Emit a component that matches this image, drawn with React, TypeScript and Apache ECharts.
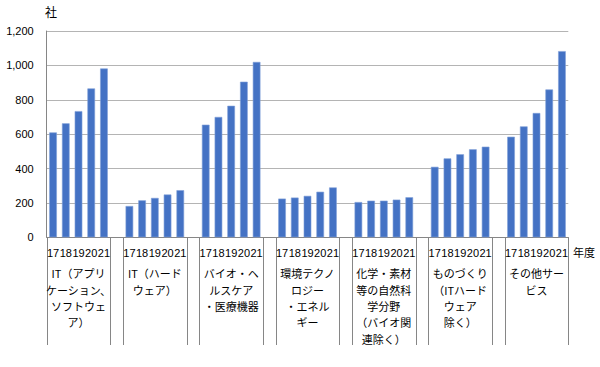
import React, { useEffect, useRef } from "react";
import * as echarts from "echarts";

const groupNames = [
  "IT（アプリ\nケーション、\nソフトウェ\nア）",
  "IT（ハード\nウェア）",
  "バイオ・ヘ\nルスケア\n・医療機器",
  "環境テクノ\nロジー\n・エネル\nギー",
  "化学・素材\n等の自然科\n学分野\n（バイオ関\n連除く）",
  "ものづくり\n（ITハード\nウェア\n除く）",
  "その他サー\nビス",
];
const years = ["17", "18", "19", "20", "21"];
const itApp = [610, 663, 734, 866, 982];
const itHard = [182, 215, 229, 249, 274];
const bio = [655, 700, 765, 905, 1020];
const env = [225, 231, 241, 265, 290];
const chem = [205, 213, 213, 219, 233];
const mono = [410, 459, 483, 512, 527];
const other = [585, 645, 723, 860, 1083];
const groupValues = [itApp, itHard, bio, env, chem, mono, other];
const yTicks = { min: 0, max: 1200, interval: 200 };

const CJK = "'Noto Sans CJK JP', sans-serif";
const LAT = "'Liberation Sans', Arial, sans-serif";

export default function App() {
  const ref = useRef<HTMLDivElement>(null);
  useEffect(() => {
    if (!ref.current) return;
    const chart = echarts.init(ref.current, null, { renderer: "svg" });

    const slotLabels: string[] = [];
    const groupLabels: string[] = [];
    const values: (number | null)[] = [];
    const boundaries: number[] = [];
    groupValues.forEach((vals, g) => {
      boundaries.push(slotLabels.length);
      vals.forEach((v, i) => {
        slotLabels.push(years[i]);
        groupLabels.push(i === 2 ? groupNames[g] : "");
        values.push(v);
      });
      boundaries.push(slotLabels.length);
      if (g < groupValues.length - 1) {
        slotLabels.push("");
        groupLabels.push("");
        values.push(null);
      }
    });

    chart.setOption({
      animation: false,
      grid: { left: 46.7, right: 31.7, top: 31, bottom: 129.7 },
      xAxis: [
        {
          type: "category",
          data: slotLabels,
          axisLine: { show: true, lineStyle: { color: "#868686", width: 1 } },
          axisTick: { show: false },
          axisLabel: {
            interval: 0,
            fontSize: 11,
            color: "#000",
            margin: 10,
            fontFamily: LAT,
          },
        },
        {
          type: "category",
          data: groupLabels,
          position: "bottom",
          axisLine: { show: false },
          axisTick: { show: false },
          axisLabel: {
            interval: 0,
            fontSize: 11,
            lineHeight: 16.3,
            color: "#000",
            margin: 28,
            fontFamily: CJK,
            hideOverlap: false,
          },
        },
      ],
      yAxis: {
        type: "value",
        min: yTicks.min,
        max: yTicks.max,
        interval: yTicks.interval,
        axisLine: { show: true, lineStyle: { color: "#868686" } },
        axisTick: { show: false },
        splitLine: { lineStyle: { color: "#b4b4b4", width: 1 } },
        axisLabel: {
          fontSize: 11,
          color: "#000",
          margin: 13,
          fontFamily: LAT,
          formatter: (v: number) => v.toLocaleString("en-US"),
        },
      },
      series: [
        {
          type: "bar",
          xAxisIndex: 0,
          data: values,
          barWidth: "60%",
          itemStyle: { color: "#4472C4", borderColor: "#7f9fd8", borderWidth: 0.6 },
        },
      ],
    });

    const c0 = chart.convertToPixel({ xAxisIndex: 0 }, 0) as number;
    const c1 = chart.convertToPixel({ xAxisIndex: 0 }, 1) as number;
    const slotW = c1 - c0;
    const axisY = chart.convertToPixel({ yAxisIndex: 0 }, 0) as number;
    const lines = boundaries.map((b) => {
      const x = Math.round(c0 - slotW / 2 + b * slotW) + 0.5;
      return {
        type: "line",
        shape: { x1: x, y1: axisY, x2: x, y2: 345 },
        style: { stroke: "#868686", lineWidth: 1 },
        silent: true,
      };
    });

    chart.setOption({
      graphic: [
        ...lines,
        {
          type: "text",
          left: 45,
          top: 5,
          style: { text: "社", fontSize: 12, fill: "#000", fontFamily: CJK },
        },
        {
          type: "text",
          left: 573,
          top: 246,
          style: { text: "年度", fontSize: 11, fill: "#000", fontFamily: CJK },
        },
      ],
    });

    return () => chart.dispose();
  }, []);
  return (
    <div
      ref={ref}
      style={{ position: "absolute", left: 0, top: 0, width: 600, height: 367 }}
    />
  );
}
